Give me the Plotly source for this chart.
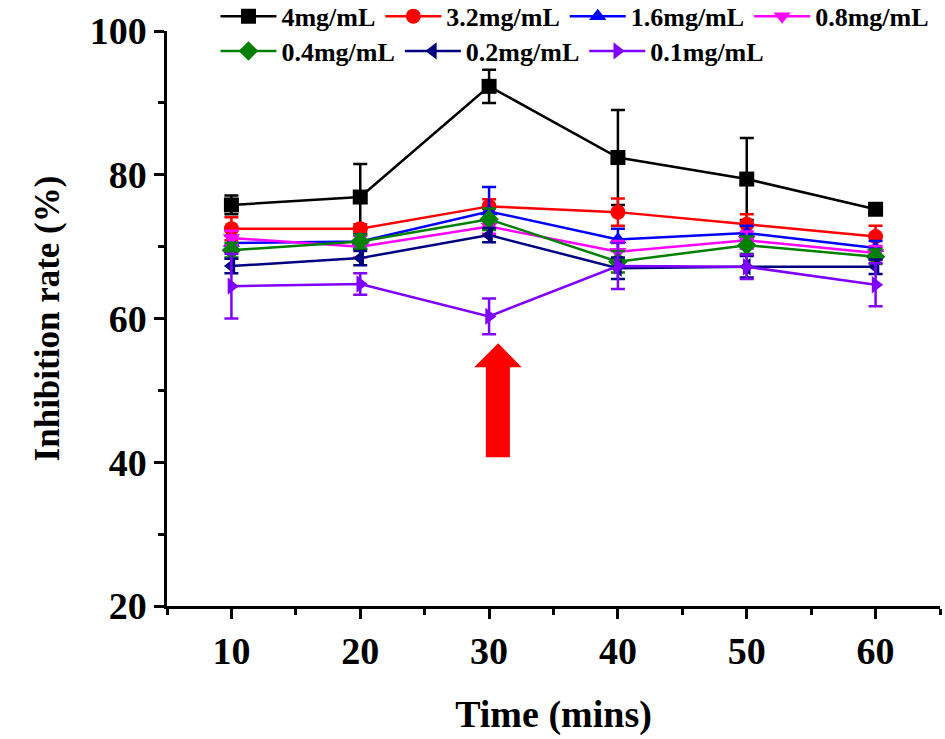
import plotly.graph_objects as go

times = [10, 20, 30, 40, 50, 60]
names = ["4mg/mL", "3.2mg/mL", "1.6mg/mL", "0.8mg/mL", "0.4mg/mL", "0.2mg/mL", "0.1mg/mL"]
v_4 = [75.8, 76.9, 92.3, 82.4, 79.4, 75.2]
e_4 = [1.3, 4.6, 2.3, 6.6, 5.7, 0.6]
v_32 = [72.5, 72.5, 75.6, 74.8, 73.1, 71.4]
e_32 = [1.6, 0.6, 1.0, 1.9, 1.4, 1.5]
v_16 = [70.5, 70.7, 74.9, 71.0, 71.9, 69.8]
e_16 = [1.0, 1.0, 3.4, 1.5, 1.0, 1.0]
v_08 = [71.2, 70.0, 72.8, 69.3, 70.9, 69.1]
e_08 = [1.0, 1.5, 1.0, 1.5, 1.2, 1.0]
v_04 = [69.5, 70.7, 73.8, 67.9, 70.2, 68.6]
e_04 = [1.0, 1.0, 1.5, 1.5, 1.2, 1.0]
v_02 = [67.3, 68.4, 71.6, 67.0, 67.2, 67.2]
e_02 = [1.0, 1.0, 1.0, 1.5, 1.5, 1.0]
v_01 = [64.5, 64.8, 60.3, 67.3, 67.2, 64.7]
e_01 = [4.5, 1.5, 2.5, 3.2, 1.7, 3.0]

values = [v_4, v_32, v_16, v_08, v_04, v_02, v_01]
errors = [e_4, e_32, e_16, e_08, e_04, e_02, e_01]
colors = ["#000000", "#FF0000", "#0000FF", "#FF00FF", "#008000", "#000080", "#8000FF"]
symbols = ["square", "circle", "triangle-up", "triangle-down", "diamond", "triangle-left", "triangle-right"]
legends = ["legend", "legend", "legend", "legend", "legend2", "legend2", "legend2"]

# red arrow outline (annotation), in data units
arrow_x = [30.71, 32.53, 31.62, 31.62, 29.75, 29.75, 28.84]
arrow_y = [56.55, 53.21, 53.21, 40.69, 40.69, 53.21, 53.21]

FONT = "Liberation Serif"

fig = go.Figure()
for n, v, e, c, s, lg in zip(names, values, errors, colors, symbols, legends):
    fig.add_trace(go.Scatter(
        x=times, y=v, name=n, mode="lines+markers",
        line=dict(color=c, width=2.5),
        marker=dict(symbol=s, size=15, color=c),
        error_y=dict(type="data", array=e, visible=True, color=c, thickness=2.5, width=7),
        legend=lg,
    ))

path = "M " + " L ".join(f"{x},{y}" for x, y in zip(arrow_x, arrow_y)) + " Z"
fig.add_shape(type="path", path=path, xref="x", yref="y",
              fillcolor="#FF0000", line=dict(color="#FF0000", width=0))

legend_common = dict(orientation="h", font=dict(family=FONT, size=26, color="black", weight="bold"),
                     bgcolor="rgba(0,0,0,0)", xanchor="left", yanchor="middle",
                     xref="container", yref="container", itemwidth=56,
                     itemsizing="trace", tracegroupgap=0)
fig.update_layout(
    width=945, height=739,
    margin=dict(l=167, r=5, t=31, b=133, autoexpand=False),
    plot_bgcolor="white", paper_bgcolor="white",
    legend=dict(x=0.228, y=0.978, **legend_common),
    legend2=dict(x=0.228, y=0.931, **legend_common),
    xaxis=dict(
        range=[5, 65], tick0=0, dtick=10, showgrid=False, zeroline=False,
        showline=True, linecolor="black", linewidth=2.5,
        ticks="outside", ticklen=10, tickwidth=2.5, tickcolor="black",
        minor=dict(dtick=5, ticks="outside", ticklen=6, tickwidth=2.5, tickcolor="black"),
        tickfont=dict(family=FONT, size=38, color="black", weight="bold"),
        title=dict(text="Time (mins)", font=dict(family=FONT, size=38, color="black", weight="bold"), standoff=30),
    ),
    yaxis=dict(
        range=[20, 100], tick0=0, dtick=20, showgrid=False, zeroline=False,
        showline=True, linecolor="black", linewidth=2.5,
        ticks="outside", ticklen=10, tickwidth=2.5, tickcolor="black",
        minor=dict(dtick=10, ticks="outside", ticklen=6, tickwidth=2.5, tickcolor="black"),
        tickfont=dict(family=FONT, size=38, color="black", weight="bold"),
        title=dict(text="Inhibition rate (%)", font=dict(family=FONT, size=35, color="black", weight="bold"), standoff=20),
    ),
)

fig.write_html("out.html")
